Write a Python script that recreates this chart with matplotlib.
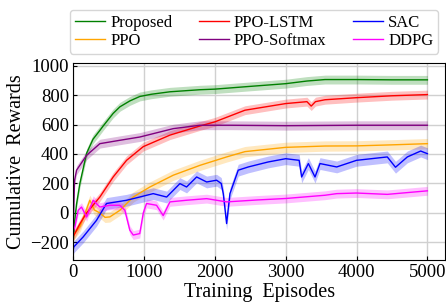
import numpy as np
import matplotlib
matplotlib.use('Agg')
import matplotlib.pyplot as plt

plt.rcParams['font.family'] = ['Liberation Serif', 'DejaVu Serif']
plt.rcParams['mathtext.fontset'] = 'stix'

# ===== data (episode, reward) =====
proposed_ep = [0, 20, 48, 95, 190, 280, 377, 424, 564, 660, 800, 940, 1100, 1366, 1790, 2000, 2425, 3000, 3300, 3555, 4000, 4500, 5000]
proposed_val = [-200, -60, 60, 200, 405, 500, 560, 590, 675, 720, 760, 790, 805, 822, 836, 840, 856, 877, 895, 905, 905, 903, 903]

ppo_ep = [0, 24, 100, 236, 300, 377, 450, 518, 660, 848, 1083, 1413, 1790, 2166, 2425, 3000, 3555, 4000, 4500, 5000]
ppo_val = [-160, -139, -90, 86, 20, 0, -30, -27, 18, 108, 176, 256, 323, 380, 416, 445, 454, 455, 462, 470]

lstm_ep = [0, 24, 100, 190, 377, 565, 754, 990, 1366, 1790, 2000, 2425, 3000, 3300, 3360, 3420, 3555, 4000, 4500, 5000]
lstm_val = [-160, -139, -70, 0, 108, 244, 357, 450, 528, 590, 618, 697, 742, 755, 725, 755, 768, 782, 795, 803]

softmax_ep = [0, 20, 48, 190, 377, 660, 940, 1413, 1790, 2200, 3000, 4000, 5000]
softmax_val = [-120, 220, 290, 391, 470, 493, 515, 572, 595, 595, 592, 595, 595]

sac_ep = [0, 10, 141, 330, 471, 613, 754, 940, 1130, 1320, 1507, 1601, 1743, 1884, 2025, 2090, 2119, 2166,
          2213, 2330, 2472, 2754, 3000, 3190, 3225, 3320, 3414, 3484, 3720, 4000, 4434, 4550, 4717, 4905, 5000]
sac_val = [-250, -230, -163, -50, 64, 75, 86, 108, 131, 108, 199, 176, 244, 210, 222, 200, 131, -72,
           131, 290, 312, 346, 368, 357, 244, 335, 244, 335, 312, 357, 380, 310, 380, 420, 402]

ddpg_ep = [0, 24, 71, 118, 190, 283, 377, 518, 660, 730, 800, 848, 940, 990, 1036, 1177, 1271, 1366, 1601,
           1884, 2166, 2600, 3000, 3555, 3720, 4000, 4434, 5000]
ddpg_val = [-120, -95, 18, 40, -27, 86, 40, 52, 52, 18, -117, -150, -140, 0, 64, 52, -18, 75, 86,
            97, 75, 88, 98, 120, 131, 135, 126, 150]

# (name, episodes, values, colour, band half-width)
series = [
    ('Proposed', proposed_ep, proposed_val, 'green', 30),
    ('PPO', ppo_ep, ppo_val, 'orange', 35),
    ('PPO-LSTM', lstm_ep, lstm_val, 'red', 30),
    ('PPO-Softmax', softmax_ep, softmax_val, 'purple', 30),
    ('SAC', sac_ep, sac_val, 'blue', 40),
    ('DDPG', ddpg_ep, ddpg_val, 'magenta', 30),
]

fig = plt.figure(figsize=(4.46, 3.06), dpi=100)
ax = fig.add_axes([0.164, 0.150, 0.834, 0.643])

handles = []
for name, ep, val, color, band in series:
    ep = np.array(ep)
    val = np.array(val)
    ax.fill_between(ep, val - band, val + band, color=color, alpha=0.25, linewidth=0)
    line, = ax.plot(ep, val, color=color, linewidth=1.0, label=name)
    handles.append(line)

ax.set_xlim(0, 5250)
ax.set_ylim(-320, 1015)
ax.set_xticks([0, 1000, 2000, 3000, 4000, 5000])
ax.set_yticks([-200, 0, 200, 400, 600, 800, 1000])
ax.grid(True, color='#d0d0d0', linewidth=1.0)
ax.set_axisbelow(True)
ax.tick_params(direction='in', labelsize=13.5, length=3, pad=3)
ax.set_xlabel('Training  Episodes', fontsize=14.5, labelpad=1)
ax.set_ylabel('Cumulative  Rewards', fontsize=14.5, labelpad=3)

fig.legend(handles=handles, loc='upper center', bbox_to_anchor=(0.570, 0.995), ncol=3,
           fontsize=12, frameon=True, handlelength=1.8, columnspacing=1.6,
           labelspacing=0.1, borderpad=0.3, handletextpad=0.3)

plt.savefig('out.png', dpi=100)
